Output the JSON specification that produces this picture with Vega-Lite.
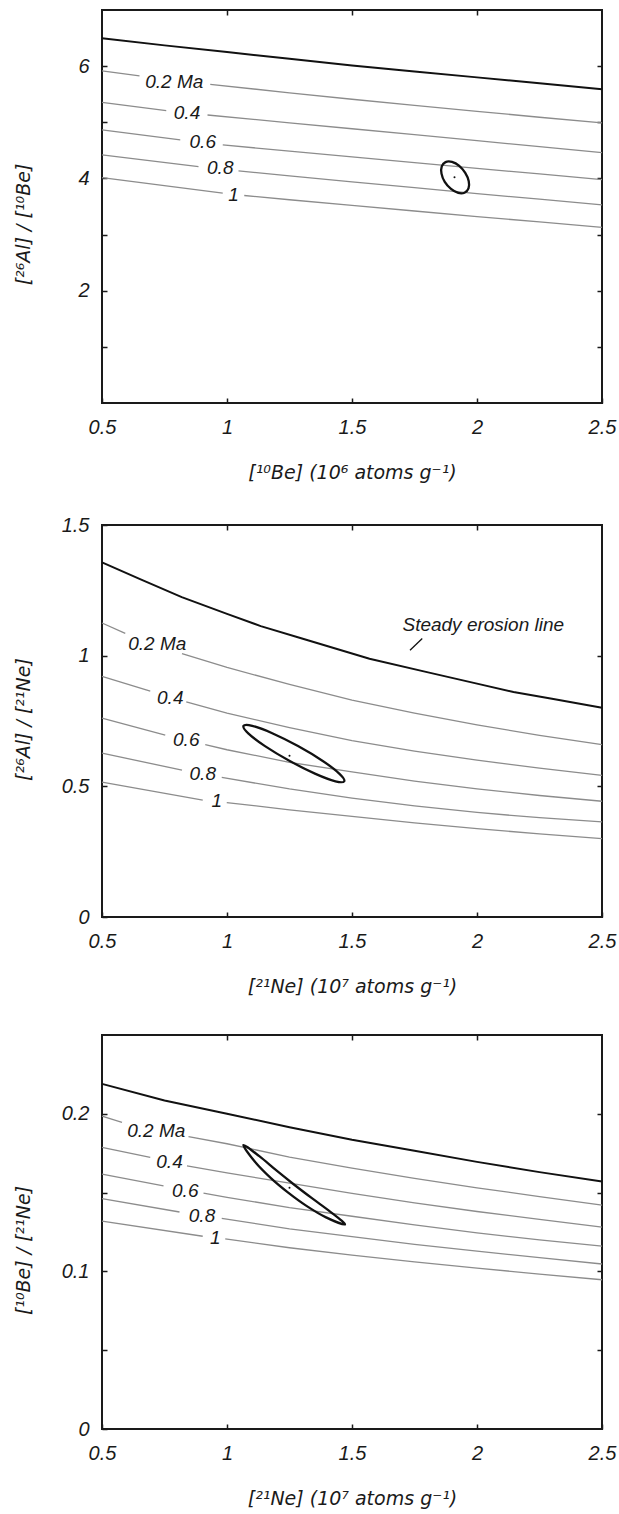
{
  "$schema": "https://vega.github.io/schema/vega-lite/v6.json",
  "background": "white",
  "padding": {"left": 13, "top": 8, "right": 2, "bottom": 2},
  "bounds": "flush",
  "spacing": 122,
  "config": {
    "view": {"stroke": "#1a1a1a", "strokeWidth": 2},
    "font": "Liberation Sans",
    "axis": {
      "domain": false, "grid": false,
      "labelFont": "Liberation Sans", "labelFontSize": 20, "labelFontStyle": "italic", "labelColor": "#1a1a1a",
      "titleFont": "DejaVu Sans", "titleFontSize": 19, "titleFontStyle": "italic", "titleFontWeight": "normal", "titleColor": "#1a1a1a",
      "tickColor": "#1a1a1a", "tickSize": -5, "tickWidth": 1.5
    }
  },
  "datasets": {
    "p1": [
      {"k":"steady","x":0.5,"y":6.495},{"k":"steady","x":0.75,"y":6.37},{"k":"steady","x":1.0,"y":6.25},{"k":"steady","x":1.25,"y":6.13},{"k":"steady","x":1.5,"y":6.01},{"k":"steady","x":1.75,"y":5.905},{"k":"steady","x":2.0,"y":5.8},{"k":"steady","x":2.25,"y":5.695},{"k":"steady","x":2.5,"y":5.59},
      {"k":"iso","id":"0.2a","x":0.5,"y":5.915},{"k":"iso","id":"0.2a","x":0.65,"y":5.826},
      {"k":"iso","id":"0.2b","x":0.933,"y":5.676},{"k":"iso","id":"0.2b","x":1.25,"y":5.525},{"k":"iso","id":"0.2b","x":1.5,"y":5.41},{"k":"iso","id":"0.2b","x":1.75,"y":5.3},{"k":"iso","id":"0.2b","x":2.0,"y":5.195},{"k":"iso","id":"0.2b","x":2.25,"y":5.09},{"k":"iso","id":"0.2b","x":2.5,"y":4.99},
      {"k":"iso","id":"0.4a","x":0.5,"y":5.356},{"k":"iso","id":"0.4a","x":0.757,"y":5.208},
      {"k":"iso","id":"0.4b","x":0.922,"y":5.13},{"k":"iso","id":"0.4b","x":1.25,"y":4.99},{"k":"iso","id":"0.4b","x":1.5,"y":4.885},{"k":"iso","id":"0.4b","x":1.75,"y":4.78},{"k":"iso","id":"0.4b","x":2.0,"y":4.672},{"k":"iso","id":"0.4b","x":2.25,"y":4.565},{"k":"iso","id":"0.4b","x":2.5,"y":4.46},
      {"k":"iso","id":"0.6a","x":0.5,"y":4.865},{"k":"iso","id":"0.6a","x":0.813,"y":4.687},
      {"k":"iso","id":"0.6b","x":0.983,"y":4.598},{"k":"iso","id":"0.6b","x":1.25,"y":4.485},{"k":"iso","id":"0.6b","x":1.5,"y":4.385},{"k":"iso","id":"0.6b","x":1.75,"y":4.28},{"k":"iso","id":"0.6b","x":2.0,"y":4.18},{"k":"iso","id":"0.6b","x":2.25,"y":4.08},{"k":"iso","id":"0.6b","x":2.5,"y":3.98},
      {"k":"iso","id":"0.8a","x":0.5,"y":4.42},{"k":"iso","id":"0.8a","x":0.886,"y":4.212},
      {"k":"iso","id":"0.8b","x":1.046,"y":4.135},{"k":"iso","id":"0.8b","x":1.25,"y":4.045},{"k":"iso","id":"0.8b","x":1.5,"y":3.94},{"k":"iso","id":"0.8b","x":1.75,"y":3.835},{"k":"iso","id":"0.8b","x":2.0,"y":3.73},{"k":"iso","id":"0.8b","x":2.25,"y":3.63},{"k":"iso","id":"0.8b","x":2.5,"y":3.53},
      {"k":"iso","id":"1a","x":0.5,"y":4.016},{"k":"iso","id":"1a","x":0.983,"y":3.737},
      {"k":"iso","id":"1b","x":1.069,"y":3.696},{"k":"iso","id":"1b","x":1.25,"y":3.62},{"k":"iso","id":"1b","x":1.5,"y":3.52},{"k":"iso","id":"1b","x":1.75,"y":3.42},{"k":"iso","id":"1b","x":2.0,"y":3.32},{"k":"iso","id":"1b","x":2.25,"y":3.225},{"k":"iso","id":"1b","x":2.5,"y":3.13},
      {"k":"lab","t":"0.2 Ma","x":0.789,"y":5.71},{"k":"lab","t":"0.4","x":0.84,"y":5.16},{"k":"lab","t":"0.6","x":0.903,"y":4.657},{"k":"lab","t":"0.8","x":0.973,"y":4.18},{"k":"lab","t":"1","x":1.026,"y":3.708},
      {"k":"ell","i":0,"x":1.95,"y":3.745},{"k":"ell","i":1,"x":1.925,"y":3.741},{"k":"ell","i":2,"x":1.896,"y":3.812},{"k":"ell","i":3,"x":1.871,"y":3.938},{"k":"ell","i":4,"x":1.858,"y":4.085},{"k":"ell","i":5,"x":1.859,"y":4.214},{"k":"ell","i":6,"x":1.874,"y":4.291},{"k":"ell","i":7,"x":1.9,"y":4.294},{"k":"ell","i":8,"x":1.929,"y":4.224},{"k":"ell","i":9,"x":1.953,"y":4.098},{"k":"ell","i":10,"x":1.967,"y":3.951},{"k":"ell","i":11,"x":1.966,"y":3.822},
      {"k":"dot","x":1.91,"y":4.02}
    ],
    "p2": [
      {"k":"steady","x":0.5,"y":1.357},{"k":"steady","x":0.65,"y":1.294},{"k":"steady","x":0.819,"y":1.224},{"k":"steady","x":1.0,"y":1.16},{"k":"steady","x":1.135,"y":1.113},{"k":"steady","x":1.3,"y":1.066},{"k":"steady","x":1.57,"y":0.988},{"k":"steady","x":1.8,"y":0.937},{"k":"steady","x":2.0,"y":0.893},{"k":"steady","x":2.146,"y":0.861},{"k":"steady","x":2.3,"y":0.835},{"k":"steady","x":2.5,"y":0.801},
      {"k":"iso","id":"0.2a","x":0.5,"y":1.125},{"k":"iso","id":"0.2a","x":0.593,"y":1.085},
      {"k":"iso","id":"0.2b","x":0.82,"y":1.008},{"k":"iso","id":"0.2b","x":1.0,"y":0.955},{"k":"iso","id":"0.2b","x":1.25,"y":0.89},{"k":"iso","id":"0.2b","x":1.5,"y":0.83},{"k":"iso","id":"0.2b","x":1.75,"y":0.78},{"k":"iso","id":"0.2b","x":2.0,"y":0.735},{"k":"iso","id":"0.2b","x":2.25,"y":0.695},{"k":"iso","id":"0.2b","x":2.5,"y":0.66},
      {"k":"iso","id":"0.4a","x":0.5,"y":0.921},{"k":"iso","id":"0.4a","x":0.693,"y":0.864},
      {"k":"iso","id":"0.4b","x":0.837,"y":0.823},{"k":"iso","id":"0.4b","x":1.0,"y":0.78},{"k":"iso","id":"0.4b","x":1.25,"y":0.725},{"k":"iso","id":"0.4b","x":1.5,"y":0.675},{"k":"iso","id":"0.4b","x":1.75,"y":0.635},{"k":"iso","id":"0.4b","x":2.0,"y":0.6},{"k":"iso","id":"0.4b","x":2.25,"y":0.57},{"k":"iso","id":"0.4b","x":2.5,"y":0.542},
      {"k":"iso","id":"0.6a","x":0.5,"y":0.761},{"k":"iso","id":"0.6a","x":0.753,"y":0.696},
      {"k":"iso","id":"0.6b","x":0.913,"y":0.66},{"k":"iso","id":"0.6b","x":1.0,"y":0.64},{"k":"iso","id":"0.6b","x":1.25,"y":0.592},{"k":"iso","id":"0.6b","x":1.5,"y":0.555},{"k":"iso","id":"0.6b","x":1.75,"y":0.52},{"k":"iso","id":"0.6b","x":2.0,"y":0.49},{"k":"iso","id":"0.6b","x":2.25,"y":0.465},{"k":"iso","id":"0.6b","x":2.5,"y":0.443},
      {"k":"iso","id":"0.8a","x":0.5,"y":0.627},{"k":"iso","id":"0.8a","x":0.82,"y":0.562},
      {"k":"iso","id":"0.8b","x":0.979,"y":0.534},{"k":"iso","id":"0.8b","x":1.25,"y":0.49},{"k":"iso","id":"0.8b","x":1.5,"y":0.455},{"k":"iso","id":"0.8b","x":1.75,"y":0.425},{"k":"iso","id":"0.8b","x":2.0,"y":0.4},{"k":"iso","id":"0.8b","x":2.25,"y":0.38},{"k":"iso","id":"0.8b","x":2.5,"y":0.364},
      {"k":"iso","id":"1a","x":0.5,"y":0.516},{"k":"iso","id":"1a","x":0.903,"y":0.447},
      {"k":"iso","id":"1b","x":0.999,"y":0.438},{"k":"iso","id":"1b","x":1.25,"y":0.41},{"k":"iso","id":"1b","x":1.5,"y":0.385},{"k":"iso","id":"1b","x":1.75,"y":0.36},{"k":"iso","id":"1b","x":2.0,"y":0.338},{"k":"iso","id":"1b","x":2.25,"y":0.318},{"k":"iso","id":"1b","x":2.5,"y":0.3},
      {"k":"lab","t":"0.2 Ma","x":0.721,"y":1.043},{"k":"lab","t":"0.4","x":0.773,"y":0.839},{"k":"lab","t":"0.6","x":0.837,"y":0.677},{"k":"lab","t":"0.8","x":0.903,"y":0.546},{"k":"lab","t":"1","x":0.959,"y":0.444},{"k":"lab","t":"Steady erosion line","x":2.025,"y":1.119},
      {"k":"lead","x":1.732,"y":1.021},{"k":"lead","x":1.781,"y":1.066},
      {"k":"ell","i":0,"x":1.469,"y":0.5195},{"k":"ell","i":1,"x":1.434,"y":0.5193},{"k":"ell","i":2,"x":1.354,"y":0.5477},{"k":"ell","i":3,"x":1.251,"y":0.5969},{"k":"ell","i":4,"x":1.152,"y":0.6538},{"k":"ell","i":5,"x":1.085,"y":0.7028},{"k":"ell","i":6,"x":1.066,"y":0.7313},{"k":"ell","i":7,"x":1.101,"y":0.7315},{"k":"ell","i":8,"x":1.181,"y":0.7032},{"k":"ell","i":9,"x":1.284,"y":0.654},{"k":"ell","i":10,"x":1.383,"y":0.5971},{"k":"ell","i":11,"x":1.45,"y":0.548},
      {"k":"dot","x":1.25,"y":0.617}
    ],
    "p3": [
      {"k":"steady","x":0.5,"y":0.219},{"k":"steady","x":0.75,"y":0.2085},{"k":"steady","x":1.0,"y":0.2},{"k":"steady","x":1.25,"y":0.1915},{"k":"steady","x":1.5,"y":0.1835},{"k":"steady","x":1.75,"y":0.1765},{"k":"steady","x":2.0,"y":0.1695},{"k":"steady","x":2.25,"y":0.163},{"k":"steady","x":2.5,"y":0.157},
      {"k":"iso","id":"0.2a","x":0.5,"y":0.1985},{"k":"iso","id":"0.2a","x":0.58,"y":0.1946},
      {"k":"iso","id":"0.2b","x":0.846,"y":0.1855},{"k":"iso","id":"0.2b","x":1.0,"y":0.181},{"k":"iso","id":"0.2b","x":1.25,"y":0.1725},{"k":"iso","id":"0.2b","x":1.5,"y":0.1655},{"k":"iso","id":"0.2b","x":1.75,"y":0.159},{"k":"iso","id":"0.2b","x":2.0,"y":0.153},{"k":"iso","id":"0.2b","x":2.25,"y":0.1475},{"k":"iso","id":"0.2b","x":2.5,"y":0.1421},
      {"k":"iso","id":"0.4a","x":0.5,"y":0.1787},{"k":"iso","id":"0.4a","x":0.693,"y":0.1723},
      {"k":"iso","id":"0.4b","x":0.84,"y":0.167},{"k":"iso","id":"0.4b","x":1.0,"y":0.1625},{"k":"iso","id":"0.4b","x":1.25,"y":0.156},{"k":"iso","id":"0.4b","x":1.5,"y":0.1495},{"k":"iso","id":"0.4b","x":1.75,"y":0.1435},{"k":"iso","id":"0.4b","x":2.0,"y":0.138},{"k":"iso","id":"0.4b","x":2.25,"y":0.133},{"k":"iso","id":"0.4b","x":2.5,"y":0.1281},
      {"k":"iso","id":"0.6a","x":0.5,"y":0.1617},{"k":"iso","id":"0.6a","x":0.746,"y":0.1542},
      {"k":"iso","id":"0.6b","x":0.906,"y":0.1496},{"k":"iso","id":"0.6b","x":1.0,"y":0.147},{"k":"iso","id":"0.6b","x":1.25,"y":0.1405},{"k":"iso","id":"0.6b","x":1.5,"y":0.135},{"k":"iso","id":"0.6b","x":1.75,"y":0.1295},{"k":"iso","id":"0.6b","x":2.0,"y":0.1245},{"k":"iso","id":"0.6b","x":2.25,"y":0.12},{"k":"iso","id":"0.6b","x":2.5,"y":0.116},
      {"k":"iso","id":"0.8a","x":0.5,"y":0.1462},{"k":"iso","id":"0.8a","x":0.81,"y":0.1377},
      {"k":"iso","id":"0.8b","x":0.979,"y":0.1336},{"k":"iso","id":"0.8b","x":1.25,"y":0.127},{"k":"iso","id":"0.8b","x":1.5,"y":0.122},{"k":"iso","id":"0.8b","x":1.75,"y":0.1172},{"k":"iso","id":"0.8b","x":2.0,"y":0.1128},{"k":"iso","id":"0.8b","x":2.25,"y":0.1087},{"k":"iso","id":"0.8b","x":2.5,"y":0.1047},
      {"k":"iso","id":"1a","x":0.5,"y":0.1319},{"k":"iso","id":"1a","x":0.903,"y":0.1223},
      {"k":"iso","id":"1b","x":0.993,"y":0.1206},{"k":"iso","id":"1b","x":1.25,"y":0.115},{"k":"iso","id":"1b","x":1.5,"y":0.1103},{"k":"iso","id":"1b","x":1.75,"y":0.106},{"k":"iso","id":"1b","x":2.0,"y":0.1021},{"k":"iso","id":"1b","x":2.25,"y":0.0983},{"k":"iso","id":"1b","x":2.5,"y":0.0947},
      {"k":"lab","t":"0.2 Ma","x":0.717,"y":0.1893},{"k":"lab","t":"0.4","x":0.77,"y":0.1696},{"k":"lab","t":"0.6","x":0.833,"y":0.151},{"k":"lab","t":"0.8","x":0.9,"y":0.1351},{"k":"lab","t":"1","x":0.953,"y":0.1213},
      {"k":"ell","i":0,"x":1.0657,"y":0.1802},{"k":"ell","i":1,"x":1.1117,"y":0.1696},{"k":"ell","i":2,"x":1.1756,"y":0.1592},{"k":"ell","i":3,"x":1.2447,"y":0.15},{"k":"ell","i":4,"x":1.3178,"y":0.1416},{"k":"ell","i":5,"x":1.3961,"y":0.1343},{"k":"ell","i":6,"x":1.472,"y":0.1298},{"k":"ell","i":7,"x":1.4137,"y":0.1378},{"k":"ell","i":8,"x":1.341,"y":0.1463},{"k":"ell","i":9,"x":1.269,"y":0.155},{"k":"ell","i":10,"x":1.1988,"y":0.1639},{"k":"ell","i":11,"x":1.1292,"y":0.1731},
      {"k":"dot","x":1.25,"y":0.153}
    ]
  },
  "vconcat": [
    {
      "width": 500, "height": 393,
      "data": {"name": "p1"},
      "encoding": {
        "x": {"field": "x", "type": "quantitative", "scale": {"domain": [0.5, 2.5], "nice": false, "zero": false}, "axis": null},
        "y": {"field": "y", "type": "quantitative", "scale": {"domain": [0, 7], "nice": false, "zero": false}, "axis": null}
      },
      "layer": [
        {"transform": [{"filter": "datum.k == 'iso'"}], "mark": {"type": "line", "color": "#8c8c8c", "strokeWidth": 1.3},
         "encoding": {"detail": {"field": "id"},
          "x": {"field": "x", "type": "quantitative", "scale": {"domain": [0.5, 2.5], "nice": false, "zero": false},
                "axis": {"orient": "bottom", "values": [0.5, 1, 1.5, 2, 2.5], "format": "~g", "labelFlush": false, "labelBaseline": "middle", "labelPadding": 29, "title": "[¹⁰Be] (10⁶ atoms g⁻¹)", "titleY": 69, "titleBaseline": "middle"}},
          "y": {"field": "y", "type": "quantitative", "scale": {"domain": [0, 7], "nice": false, "zero": false},
                "axis": {"orient": "left", "values": [1, 2, 3, 4, 5, 6], "format": "~g", "labelExpr": "datum.value % 2 == 0 ? datum.label : ''", "labelPadding": 18, "title": "[²⁶Al] / [¹⁰Be]", "titleX": -79, "titleY": 214, "titleBaseline": "middle"}}}},
        {"transform": [{"filter": "datum.k == 'steady'"}], "mark": {"type": "line", "color": "#111111", "strokeWidth": 2}, "encoding": {}},
        {"transform": [{"filter": "datum.k == 'ell'"}], "mark": {"type": "line", "color": "#111111", "strokeWidth": 2.3, "interpolate": "cardinal-closed"}, "encoding": {"order": {"field": "i", "type": "quantitative"}}},
        {"transform": [{"filter": "datum.k == 'dot'"}], "mark": {"type": "point", "filled": true, "color": "#111111", "size": 4, "opacity": 1}, "encoding": {}},
        {"transform": [{"filter": "datum.k == 'lab'"}], "mark": {"type": "text", "font": "Liberation Sans", "fontStyle": "italic", "fontSize": 19, "color": "#1a1a1a", "align": "center", "baseline": "middle"}, "encoding": {"text": {"field": "t"}}},
        {"transform": [{"filter": "datum.k == 'dot'"}], "mark": {"type": "point", "opacity": 0},
         "encoding": {
          "x": {"field": "x", "type": "quantitative", "scale": {"domain": [0.5, 2.5], "nice": false, "zero": false}, "axis": {"orient": "top", "values": [1, 1.5, 2], "labels": false, "title": null}},
          "y": {"field": "y", "type": "quantitative", "scale": {"domain": [0, 7], "nice": false, "zero": false}, "axis": {"orient": "right", "values": [1, 2, 3, 4, 5, 6], "labels": false, "title": null}}}}
      ],
      "resolve": {"axis": {"x": "independent", "y": "independent"}}
    },
    {
      "bounds": "flush",
      "spacing": 118,
      "vconcat": [
        {
          "width": 500, "height": 392,
          "data": {"name": "p2"},
          "encoding": {
            "x": {"field": "x", "type": "quantitative", "scale": {"domain": [0.5, 2.5], "nice": false, "zero": false}, "axis": null},
            "y": {"field": "y", "type": "quantitative", "scale": {"domain": [0, 1.5], "nice": false, "zero": false}, "axis": null}
          },
          "layer": [
            {"transform": [{"filter": "datum.k == 'iso'"}], "mark": {"type": "line", "color": "#8c8c8c", "strokeWidth": 1.3},
             "encoding": {"detail": {"field": "id"},
              "x": {"field": "x", "type": "quantitative", "scale": {"domain": [0.5, 2.5], "nice": false, "zero": false},
                    "axis": {"orient": "bottom", "values": [0.5, 1, 1.5, 2, 2.5], "format": "~g", "labelFlush": false, "labelBaseline": "middle", "labelPadding": 29, "title": "[²¹Ne] (10⁷ atoms g⁻¹)", "titleY": 69, "titleBaseline": "middle"}},
              "y": {"field": "y", "type": "quantitative", "scale": {"domain": [0, 1.5], "nice": false, "zero": false},
                    "axis": {"orient": "left", "values": [0, 0.5, 1, 1.5], "format": "~g", "labelPadding": 18, "title": "[²⁶Al] / [²¹Ne]", "titleX": -79, "titleY": 194, "titleBaseline": "middle"}}}},
            {"transform": [{"filter": "datum.k == 'steady'"}], "mark": {"type": "line", "color": "#111111", "strokeWidth": 2}, "encoding": {}},
            {"transform": [{"filter": "datum.k == 'lead'"}], "mark": {"type": "line", "color": "#111111", "strokeWidth": 1.3}, "encoding": {}},
            {"transform": [{"filter": "datum.k == 'ell'"}], "mark": {"type": "line", "color": "#111111", "strokeWidth": 2.3, "interpolate": "cardinal-closed"}, "encoding": {"order": {"field": "i", "type": "quantitative"}}},
            {"transform": [{"filter": "datum.k == 'dot'"}], "mark": {"type": "point", "filled": true, "color": "#111111", "size": 4, "opacity": 1}, "encoding": {}},
            {"transform": [{"filter": "datum.k == 'lab'"}], "mark": {"type": "text", "font": "Liberation Sans", "fontStyle": "italic", "fontSize": 19, "color": "#1a1a1a", "align": "center", "baseline": "middle"}, "encoding": {"text": {"field": "t"}}},
            {"transform": [{"filter": "datum.k == 'dot'"}], "mark": {"type": "point", "opacity": 0},
             "encoding": {
              "x": {"field": "x", "type": "quantitative", "scale": {"domain": [0.5, 2.5], "nice": false, "zero": false}, "axis": {"orient": "top", "values": [1, 1.5, 2], "labels": false, "title": null}},
              "y": {"field": "y", "type": "quantitative", "scale": {"domain": [0, 1.5], "nice": false, "zero": false}, "axis": {"orient": "right", "values": [0.5, 1], "labels": false, "title": null}}}}
          ],
          "resolve": {"axis": {"x": "independent", "y": "independent"}}
        },
        {
          "width": 500, "height": 394,
          "data": {"name": "p3"},
          "encoding": {
            "x": {"field": "x", "type": "quantitative", "scale": {"domain": [0.5, 2.5], "nice": false, "zero": false}, "axis": null},
            "y": {"field": "y", "type": "quantitative", "scale": {"domain": [0, 0.25], "nice": false, "zero": false}, "axis": null}
          },
          "layer": [
            {"transform": [{"filter": "datum.k == 'iso'"}], "mark": {"type": "line", "color": "#8c8c8c", "strokeWidth": 1.3},
             "encoding": {"detail": {"field": "id"},
              "x": {"field": "x", "type": "quantitative", "scale": {"domain": [0.5, 2.5], "nice": false, "zero": false},
                    "axis": {"orient": "bottom", "values": [0.5, 1, 1.5, 2, 2.5], "format": "~g", "labelFlush": false, "labelBaseline": "middle", "labelPadding": 29, "title": "[²¹Ne] (10⁷ atoms g⁻¹)", "titleY": 69, "titleBaseline": "middle"}},
              "y": {"field": "y", "type": "quantitative", "scale": {"domain": [0, 0.25], "nice": false, "zero": false},
                    "axis": {"orient": "left", "values": [0, 0.05, 0.1, 0.15, 0.2], "format": "~g", "labelExpr": "(datum.value == 0.05 || datum.value == 0.15) ? '' : datum.label", "labelPadding": 18, "title": "[¹⁰Be] / [²¹Ne]", "titleX": -79, "titleY": 215, "titleBaseline": "middle"}}}},
            {"transform": [{"filter": "datum.k == 'steady'"}], "mark": {"type": "line", "color": "#111111", "strokeWidth": 2}, "encoding": {}},
            {"transform": [{"filter": "datum.k == 'ell'"}], "mark": {"type": "line", "color": "#111111", "strokeWidth": 2.3, "interpolate": "cardinal-closed"}, "encoding": {"order": {"field": "i", "type": "quantitative"}}},
            {"transform": [{"filter": "datum.k == 'dot'"}], "mark": {"type": "point", "filled": true, "color": "#111111", "size": 4, "opacity": 1}, "encoding": {}},
            {"transform": [{"filter": "datum.k == 'lab'"}], "mark": {"type": "text", "font": "Liberation Sans", "fontStyle": "italic", "fontSize": 19, "color": "#1a1a1a", "align": "center", "baseline": "middle"}, "encoding": {"text": {"field": "t"}}},
            {"transform": [{"filter": "datum.k == 'dot'"}], "mark": {"type": "point", "opacity": 0},
             "encoding": {
              "x": {"field": "x", "type": "quantitative", "scale": {"domain": [0.5, 2.5], "nice": false, "zero": false}, "axis": {"orient": "top", "values": [1, 1.5, 2], "labels": false, "title": null}},
              "y": {"field": "y", "type": "quantitative", "scale": {"domain": [0, 0.25], "nice": false, "zero": false}, "axis": {"orient": "right", "values": [0.05, 0.1, 0.15, 0.2], "labels": false, "title": null}}}}
          ],
          "resolve": {"axis": {"x": "independent", "y": "independent"}}
        }
      ]
    }
  ]
}
